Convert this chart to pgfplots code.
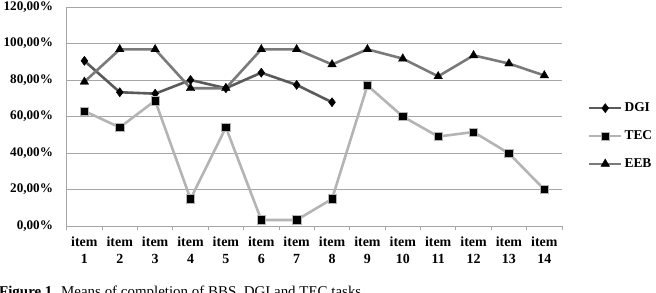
\documentclass[border=0pt]{standalone}
\usepackage{pgfplots}
\pgfplotsset{compat=1.18}
\usepackage{fontspec}
\setmainfont{Liberation Serif}
\definecolor{gridgray}{HTML}{A6A6A6}
\definecolor{dgi}{HTML}{5A5A5A}
\definecolor{tec}{HTML}{B4B4B4}
\definecolor{eeb}{HTML}{7A7A7A}
\begin{document}
\begin{tikzpicture}
\begin{axis}[
  at={(66.7bp,67bp)}, anchor=south west,
  scale only axis, width=495.3bp, height=219bp,
  xmin=0.5, xmax=14.5, ymin=0, ymax=120,
  axis x line=bottom, axis y line=left,
  axis line style={gridgray, line width=0.8bp, -},
  xtick={1,...,14},
  xticklabels={{item\\1},{item\\2},{item\\3},{item\\4},{item\\5},{item\\6},{item\\7},{item\\8},{item\\9},{item\\10},{item\\11},{item\\12},{item\\13},{item\\14}},
  xticklabel style={align=center, font=\fontsize{14}{16.7}\selectfont\bfseries, yshift=-3bp},
  major x tick style={draw=none},
  minor xtick={0.5,1.5,...,14.5},
  minor tick length=4bp,
  tick align=outside,
  minor x tick style={gridgray, line width=0.8bp},
  ytick={0,20,...,120},
  yticklabels={{0,00\%},{20,00\%},{40,00\%},{60,00\%},{80,00\%},{100,00\%},{120,00\%}},
  yticklabel style={font=\fontsize{13.2}{14}\selectfont\bfseries, xshift=-6bp},
  major y tick style={draw=none},
  ymajorgrids, grid style={gridgray, line width=0.8bp},
  clip=false,
  legend cell align=left,
  legend style={draw=none, fill=none, at={(1.052,0.411)}, anchor=west, inner sep=0pt,
    font=\fontsize{13.5}{15}\selectfont\bfseries, row sep=13.5bp,
    /tikz/every even column/.append style={column sep=1bp}},
  legend image code/.code={\draw[mark repeat=2, mark phase=2, #1] plot coordinates {(0bp,0bp) (16bp,0bp) (32bp,0bp)};},
]
\addplot[dgi, line width=2.6bp, mark=diamond*, mark size=4.5bp, mark options={fill=black, draw=black, line width=0.5bp}]
  coordinates {(1,90.5) (2,73.3) (3,72.5) (4,80) (5,75.5) (6,84) (7,77.3) (8,67.8)};
\addlegendentry{DGI}
\addplot[tec, line width=2.6bp, mark=square*, mark size=4.2bp, mark options={fill=black, draw=tec, line width=0.6bp}]
  coordinates {(1,63) (2,54) (3,68.7) (4,14.8) (5,54) (6,3.3) (7,3.3) (8,14.8) (9,77) (10,60) (11,49) (12,51.5) (13,39.8) (14,20)};
\addlegendentry{TEC}
\addplot[eeb, line width=2.6bp, mark=triangle*, mark size=5bp, mark options={fill=black, draw=black, line width=0.3bp}]
  coordinates {(1,79) (2,96.8) (3,96.8) (4,75.5) (5,75.5) (6,96.8) (7,96.8) (8,88.5) (9,96.8) (10,91.7) (11,82) (12,93.5) (13,89) (14,82.5)};
\addlegendentry{EEB}
\end{axis}
\node[anchor=base west, inner sep=0pt, font=\fontsize{15}{17}\selectfont] at (-1bp,-3bp) {\textbf{Figure 1.} Means of completion of BBS, DGI and TEC tasks};
\pgfresetboundingbox
\useasboundingbox (0,0) rectangle (656bp,293bp);
\end{tikzpicture}
\end{document}
